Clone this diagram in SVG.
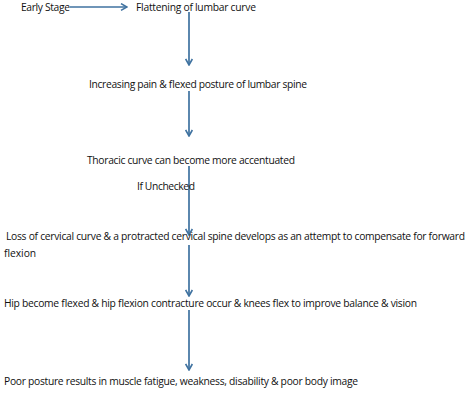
<svg xmlns="http://www.w3.org/2000/svg" width="474" height="407" viewBox="0 0 474 407">
<style>
text{font-family:"Open Sans",Lato,"Liberation Sans",sans-serif;font-size:10.3px;fill:#111}
.c{stroke:#3f72a0;stroke-width:1.7;fill:none;marker-end:url(#ah)}
</style>
<defs>
<marker id="ah" viewBox="0 0 10 10" refX="9" refY="5" markerWidth="8" markerHeight="9" markerUnits="userSpaceOnUse" orient="auto">
<path d="M1.5,0.8 L9,5 L1.5,9.2" fill="none" stroke="#3f72a0" stroke-width="2"/>
</marker>
</defs>
<rect width="474" height="407" fill="#fff"/>
<g id="connectors">
<path class="c" d="M70,7 H127"/>
<path class="c" d="M189,12 V65"/>
<path class="c" d="M189,91 V136"/>
<path class="c" d="M189,166 V235"/>
<path class="c" d="M189,245 V296"/>
<path class="c" d="M189,310 V370"/>
</g>
<g id="early"><text x="21" y="11" textLength="49">Early Stage</text></g>
<g id="flatten"><text x="136" y="11" textLength="120">Flattening of lumbar curve</text></g>
<g id="pain"><text x="89" y="88" textLength="218">Increasing pain &amp; flexed posture of lumbar spine</text></g>
<g id="thoracic"><text x="87" y="164" textLength="208">Thoracic curve can become more accentuated</text></g>
<g id="unchecked"><text x="137" y="190" textLength="58">If Unchecked</text></g>
<g id="cervical"><text x="6" y="240" textLength="459">Loss of cervical curve &amp; a protracted cervical spine develops as an attempt to compensate for forward</text><text x="4" y="257" textLength="32">flexion</text></g>
<g id="hip"><text x="4" y="307" textLength="413">Hip become flexed &amp; hip flexion contracture occur &amp; knees flex to improve balance &amp; vision</text></g>
<g id="poor"><text x="4" y="385" textLength="354">Poor posture results in muscle fatigue, weakness, disability &amp; poor body image</text></g>
</svg>
